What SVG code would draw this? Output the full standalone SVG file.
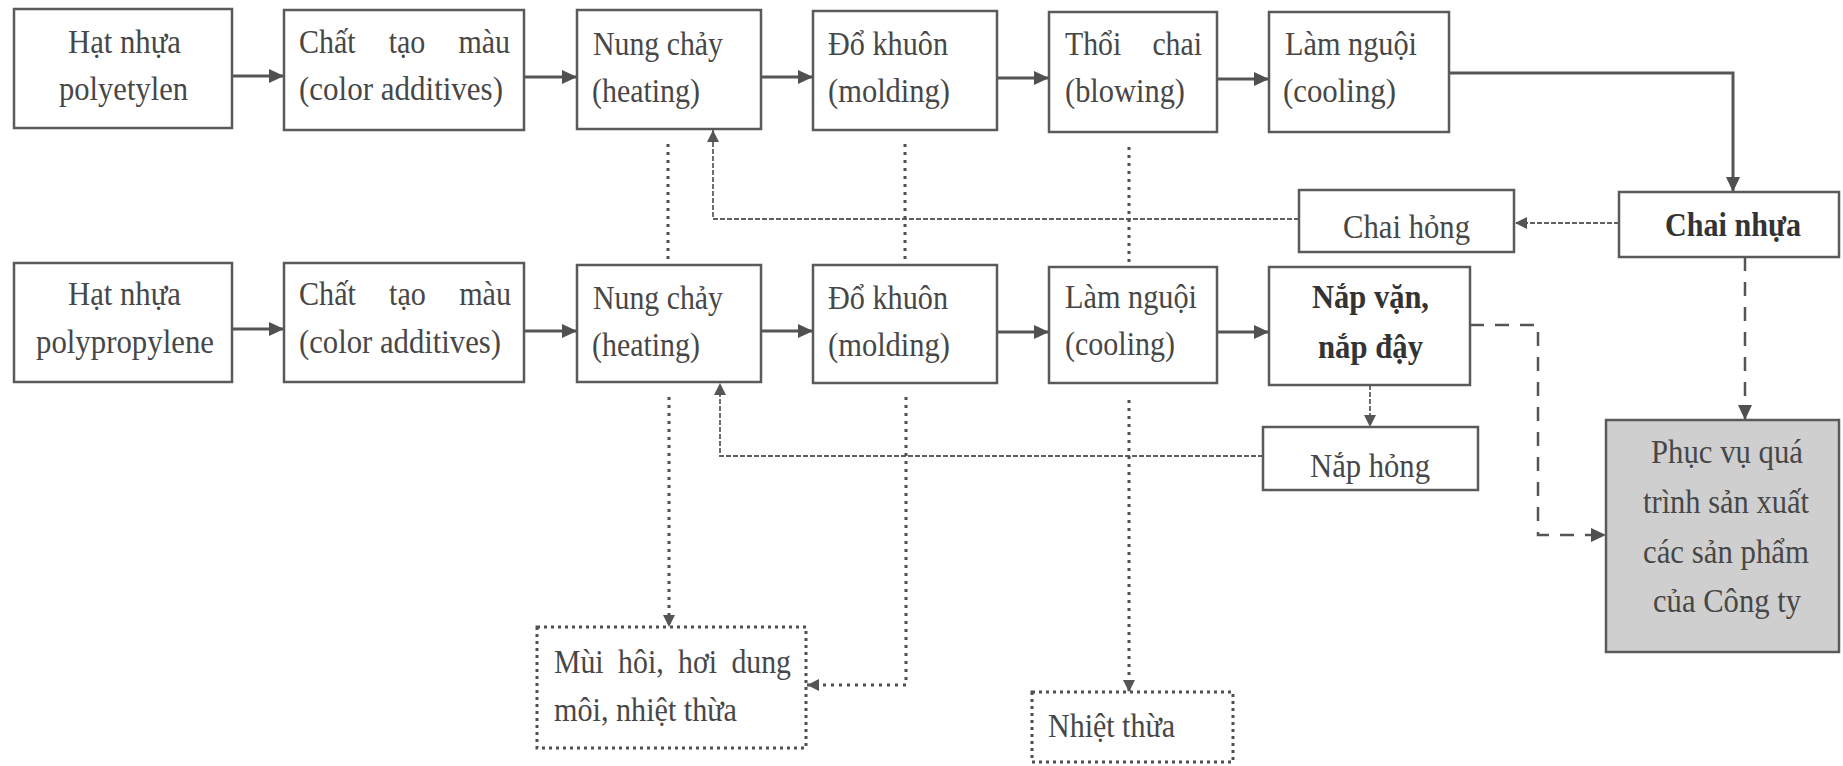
<svg xmlns="http://www.w3.org/2000/svg" width="1843" height="766" viewBox="0 0 1843 766">
<style>
  .box{fill:#fff;stroke:#5a5a5a;stroke-width:2.5}
  .gray{fill:#cfcfcf;stroke:#5a5a5a;stroke-width:2.5}
  .dotbox{fill:#fff;stroke:#505050;stroke-width:3;stroke-dasharray:3 4}
  text{font-family:'Liberation Serif','Times New Roman',serif;font-size:34px;fill:#474747}
  .b{font-weight:bold;fill:#333}
  .flow{fill:none;stroke:#555;stroke-width:3}
  .ret{fill:none;stroke:#606060;stroke-width:1.8;stroke-dasharray:5 2}
  .emit{fill:none;stroke:#505050;stroke-width:3;stroke-dasharray:3 5}
  .use{fill:none;stroke:#555;stroke-width:2.5;stroke-dasharray:14 11}
</style>
<defs>
  <marker id="ah" markerUnits="userSpaceOnUse" markerWidth="16" markerHeight="16" refX="15" refY="7" orient="auto">
    <path d="M0,0 L15,7 L0,14 z" fill="#505050"/>
  </marker>
  <marker id="ahs" markerUnits="userSpaceOnUse" markerWidth="14" markerHeight="14" refX="12" refY="6" orient="auto">
    <path d="M0,0 L12,6 L0,12 z" fill="#555"/>
  </marker>
</defs>
<rect width="1843" height="766" fill="#fff"/>

<!-- connectors -->
<g id="connectors">
  <!-- bottle line -->
  <path class="flow" d="M232,76 H284" marker-end="url(#ah)"/>
  <path class="flow" d="M524,77 H577" marker-end="url(#ah)"/>
  <path class="flow" d="M761,77 H813" marker-end="url(#ah)"/>
  <path class="flow" d="M997,78 H1049" marker-end="url(#ah)"/>
  <path class="flow" d="M1217,79 H1269" marker-end="url(#ah)"/>
  <path class="flow" d="M1449,73 H1733 V192" marker-end="url(#ah)"/>
  <!-- cap line -->
  <path class="flow" d="M232,329 H284" marker-end="url(#ah)"/>
  <path class="flow" d="M524,331 H577" marker-end="url(#ah)"/>
  <path class="flow" d="M761,331 H813" marker-end="url(#ah)"/>
  <path class="flow" d="M997,332 H1049" marker-end="url(#ah)"/>
  <path class="flow" d="M1217,332 H1269" marker-end="url(#ah)"/>
  <!-- rejects returned to melting -->
  <path class="ret" d="M1619,223 H1515" marker-end="url(#ahs)"/>
  <path class="ret" d="M1299,219 H713 V130" marker-end="url(#ahs)"/>
  <path class="ret" d="M1370,385 V427" marker-end="url(#ahs)"/>
  <path class="ret" d="M1263,456 H720 V383" marker-end="url(#ahs)"/>
  <!-- emissions -->
  <path class="emit" d="M668,144 V265"/>
  <path class="emit" d="M905,144 V265"/>
  <path class="emit" d="M1129,147 V267"/>
  <path class="emit" d="M669,397 V627" marker-end="url(#ahs)"/>
  <path class="emit" d="M906,397 V685 H807" marker-end="url(#ahs)"/>
  <path class="emit" d="M1129,400 V692" marker-end="url(#ahs)"/>
  <!-- products to company use -->
  <path class="use" d="M1745,257 V420" marker-end="url(#ah)"/>
  <path class="use" d="M1470,325 H1538 V535 H1606" marker-end="url(#ah)"/>
</g>

<!-- bottle line nodes -->
<g id="pe">
  <rect class="box" x="14" y="9" width="218" height="119"/>
  <text x="68" y="53" textLength="113" lengthAdjust="spacingAndGlyphs">Hạt nhựa</text>
  <text x="59" y="100" textLength="129" lengthAdjust="spacingAndGlyphs">polyetylen</text>
</g>
<g id="color1">
  <rect class="box" x="284" y="10" width="240" height="120"/>
  <text x="299" y="53" word-spacing="29" textLength="211" lengthAdjust="spacingAndGlyphs">Chất tạo màu</text>
  <text x="299" y="100" textLength="204" lengthAdjust="spacingAndGlyphs">(color additives)</text>
</g>
<g id="heat1">
  <rect class="box" x="577" y="10" width="184" height="119"/>
  <text x="593" y="55" textLength="130" lengthAdjust="spacingAndGlyphs">Nung chảy</text>
  <text x="592" y="102" textLength="108" lengthAdjust="spacingAndGlyphs">(heating)</text>
</g>
<g id="mold1">
  <rect class="box" x="813" y="11" width="184" height="119"/>
  <text x="828" y="55" textLength="120" lengthAdjust="spacingAndGlyphs">Đổ khuôn</text>
  <text x="828" y="102" textLength="122" lengthAdjust="spacingAndGlyphs">(molding)</text>
</g>
<g id="blow">
  <rect class="box" x="1049" y="12" width="168" height="120"/>
  <text x="1065" y="55" word-spacing="27" textLength="137" lengthAdjust="spacingAndGlyphs">Thổi chai</text>
  <text x="1065" y="102" textLength="120" lengthAdjust="spacingAndGlyphs">(blowing)</text>
</g>
<g id="cool1">
  <rect class="box" x="1269" y="12" width="180" height="120"/>
  <text x="1285" y="55" textLength="132" lengthAdjust="spacingAndGlyphs">Làm nguội</text>
  <text x="1283" y="102" textLength="113" lengthAdjust="spacingAndGlyphs">(cooling)</text>
</g>
<g id="bottle">
  <rect class="box" x="1619" y="192" width="220" height="65"/>
  <text class="b" x="1665" y="236" textLength="136" lengthAdjust="spacingAndGlyphs">Chai nhựa</text>
</g>
<g id="badbottle">
  <rect class="box" x="1299" y="190" width="215" height="62"/>
  <text x="1343" y="238" textLength="127" lengthAdjust="spacingAndGlyphs">Chai hỏng</text>
</g>

<!-- cap line nodes -->
<g id="pp">
  <rect class="box" x="14" y="263" width="218" height="119"/>
  <text x="68" y="305" textLength="113" lengthAdjust="spacingAndGlyphs">Hạt nhựa</text>
  <text x="36" y="353" textLength="178" lengthAdjust="spacingAndGlyphs">polypropylene</text>
</g>
<g id="color2">
  <rect class="box" x="284" y="263" width="240" height="119"/>
  <text x="299" y="305" word-spacing="29" textLength="212" lengthAdjust="spacingAndGlyphs">Chất tạo màu</text>
  <text x="299" y="353" textLength="202" lengthAdjust="spacingAndGlyphs">(color additives)</text>
</g>
<g id="heat2">
  <rect class="box" x="577" y="265" width="184" height="117"/>
  <text x="593" y="309" textLength="130" lengthAdjust="spacingAndGlyphs">Nung chảy</text>
  <text x="592" y="356" textLength="108" lengthAdjust="spacingAndGlyphs">(heating)</text>
</g>
<g id="mold2">
  <rect class="box" x="813" y="265" width="184" height="118"/>
  <text x="828" y="309" textLength="120" lengthAdjust="spacingAndGlyphs">Đổ khuôn</text>
  <text x="828" y="356" textLength="122" lengthAdjust="spacingAndGlyphs">(molding)</text>
</g>
<g id="cool2">
  <rect class="box" x="1049" y="267" width="168" height="116"/>
  <text x="1065" y="308" textLength="132" lengthAdjust="spacingAndGlyphs">Làm nguội</text>
  <text x="1065" y="355" textLength="110" lengthAdjust="spacingAndGlyphs">(cooling)</text>
</g>
<g id="cap">
  <rect class="box" x="1269" y="267" width="201" height="118"/>
  <text class="b" x="1312" y="308" textLength="117" lengthAdjust="spacingAndGlyphs">Nắp vặn,</text>
  <text class="b" x="1318" y="358" textLength="105" lengthAdjust="spacingAndGlyphs">nắp đậy</text>
</g>
<g id="badcap">
  <rect class="box" x="1263" y="427" width="215" height="63"/>
  <text x="1310" y="477" textLength="120" lengthAdjust="spacingAndGlyphs">Nắp hỏng</text>
</g>
<g id="company">
  <rect class="gray" x="1606" y="420" width="233" height="232"/>
  <text x="1651" y="463" textLength="152" lengthAdjust="spacingAndGlyphs">Phục vụ quá</text>
  <text x="1643" y="513" textLength="166" lengthAdjust="spacingAndGlyphs">trình sản xuất</text>
  <text x="1643" y="563" textLength="166" lengthAdjust="spacingAndGlyphs">các sản phẩm</text>
  <text x="1653" y="612" textLength="148" lengthAdjust="spacingAndGlyphs">của Công ty</text>
</g>

<!-- emission nodes -->
<g id="odour">
  <rect class="dotbox" x="537" y="627" width="269" height="121"/>
  <text x="554" y="673" word-spacing="8" textLength="237" lengthAdjust="spacingAndGlyphs">Mùi hôi, hơi dung</text>
  <text x="554" y="721" textLength="183" lengthAdjust="spacingAndGlyphs">môi, nhiệt thừa</text>
</g>
<g id="heat">
  <rect class="dotbox" x="1032" y="692" width="201" height="70"/>
  <text x="1048" y="737" textLength="127" lengthAdjust="spacingAndGlyphs">Nhiệt thừa</text>
</g>
</svg>
